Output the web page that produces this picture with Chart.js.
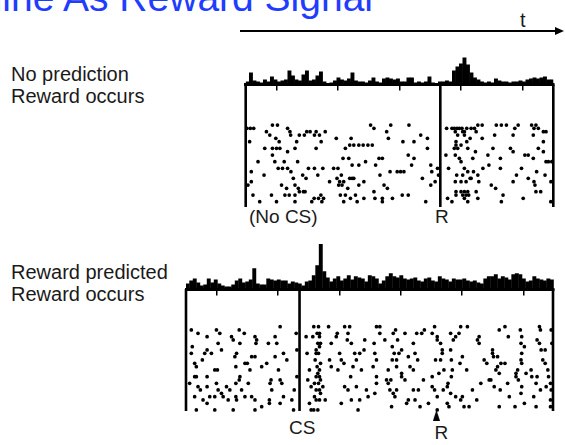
<!DOCTYPE html>
<html><head><meta charset="utf-8">
<script src="https://cdn.jsdelivr.net/npm/chart.js@4.4.1/dist/chart.umd.min.js"></script>
<style>
html,body{margin:0;padding:0;background:#fff;}
#page{position:relative;width:565px;height:445px;overflow:hidden;background:#fff;font-family:"Liberation Sans",Arial,sans-serif;}
.lbl{position:absolute;white-space:nowrap;line-height:1;color:#1a1a1a;}
canvas{position:absolute;}
</style></head><body>
<div id="page">
  <div class="lbl" style="right:192px;top:-22px;font-size:39px;color:#1f3cff;">Dopamine As Reward Signal</div>
  <div style="position:absolute;left:240px;top:30px;width:316px;height:2px;background:#000;"></div>
  <div style="position:absolute;left:555px;top:27px;width:0;height:0;border-left:9px solid #000;border-top:4px solid transparent;border-bottom:4px solid transparent;"></div>
  <div class="lbl" style="left:520px;top:10px;font-size:20px;">t</div>

  <div class="lbl" style="left:11px;top:63.5px;font-size:20px;">No prediction</div>
  <div class="lbl" style="left:11px;top:86px;font-size:20px;">Reward occurs</div>
  <div class="lbl" style="left:11px;top:261.6px;font-size:20px;">Reward predicted</div>
  <div class="lbl" style="left:11px;top:284.1px;font-size:20px;">Reward occurs</div>

  <div class="lbl" style="left:249px;top:206.9px;font-size:19px;">(No CS)</div>
  <div class="lbl" style="left:435px;top:206.9px;font-size:19px;">R</div>
  <div class="lbl" style="left:289px;top:417.9px;font-size:19px;">CS</div>
  <div class="lbl" style="left:434.5px;top:422.9px;font-size:19px;">R</div>

  <canvas id="histTop" width="318" height="54" style="left:240px;top:40px;"></canvas>
  <canvas id="rasterTop" width="318" height="132" style="left:240px;top:80px;"></canvas>
  <canvas id="histBottom" width="378" height="60" style="left:180px;top:239px;"></canvas>
  <canvas id="rasterBottom" width="378" height="141" style="left:180px;top:284px;"></canvas>
</div>
<script>
// ---------- DATA ----------
// time in ms (top: relative to reward R, bottom: relative to CS); bin width of histograms
const binMs = 25;
const tickStepMs = 410;
const topRange = [-1390, 807];
const bottomRange = [-813, 1815];
// vertical marker lines: left edge, event, right edge
const topMarkers = [-1390, 0, 807];
const bottomMarkers = [-813, 0, 1815];
const bottomRewardTime = 980;

// peri-event histogram counts (spikes per bin)
const topBinCounts = [3,12,4,3,2,5,3,8,5,3, 4,5,14,9,5,4,10,14,4,5, 9,13,3,1,2,4,7,5,4,6,
  12,4,3,3,2,4,7,3,2,6, 7,6,5,6,3,3,7,7,2,3, 2,3,8,2,1,3,3,4,3,14, 18,21,27,20,12,7,5,3,2,3,
  2,6,4,3,3,2,3,3,4,3, 5,6,7,6,7,8,5,5];
const bottomBinCounts = [6,9,11,7,4,5,11,7,10,6, 4,3,3,5,9,11,7,8,10,21, 6,5,5,11,10,9,10,9,9,6,
  8,7,6,4,8,9,14,24,45,18, 12,8,11,13,9,11,14,10,13,12, 11,8,14,13,11,6,9,13,16,13,
  12,14,11,10,11,12,9,8,11,12, 9,8,13,11,10,8,11,10,10,11, 9,8,9,7,6,11,13,13,15,11,
  13,12,10,15,16,15,11,8,9,13, 11,10,9,11,10];

// raster spikes: [time ms, trial]
const topSpikes = [
 [-1381,2],[-1357,2],[-1333,2],[-1242,3],[-1199,1],[-1163,1],[-1091,2],[-1074,3],[-1069,4],[-1007,4],[-971,4],
 [-954,3],[-930,3],[-899,4],[-887,3],[-863,4],[-822,3],[-498,1],[-474,2],[-354,1],[-383,3],[-371,5],
 [-1362,6],[-1218,4],[-1175,5],[-1151,6],[-1026,6],[-851,6],[-743,5],[-637,5],
 [-1254,8],[-1199,8],[-1170,8],[-1146,8],[-1091,9],[-1038,8],[-887,8],[-678,8],
 [-647,7],[-618,7],[-582,7],[-551,7],[-517,7],[-486,7],
 [-1199,10],[-695,11],[-654,11],[-438,11],[-414,11],
 [-1302,12],[-1182,12],[-1115,12],[-1019,12],[-630,13],[-582,13],[-534,12],[-462,13],
 [-1350,15],[-1259,16],[-1158,14],[-1127,14],[-1091,14],[-1067,15],[-1050,17],[-983,16],[-959,17],
 [-942,14],[-899,14],[-875,16],[-839,14],[-762,14],[-731,14],[-738,17],[-707,16],[-647,17],[-630,17],[-618,17],
 [-431,16],[-359,15],
 [-1374,19],[-1350,18],[-1134,19],[-1098,20],[-1038,19],[-1014,20],[-791,18],[-719,18],[-726,19],[-690,18],
 [-702,19],[-661,20],[-582,19],[-546,18],[-402,19],[-378,20],
 [-1338,22],[-1206,22],[-1110,22],[-1079,22],[-1038,22],[-1007,21],[-978,21],[-966,21],[-901,23],[-870,23],
 [-853,22],[-834,23],[-714,22],[-678,22],[-642,23],[-606,22],[-546,23],[-474,21],[-467,23],[-414,23],[-342,23],
 [-1290,24],[-1170,24],[-1038,24],[-918,24],[-846,24],[-690,24],[-594,24],[-414,24],
 [-224,1],[-140,4],[-267,6],[-188,6],[-92,5],[-92,8],[-229,10],[-188,11],[-308,15],[-284,15],[-260,15],
 [-205,13],[-68,13],[-20,14],[-61,15],[-128,17],[-37,18],[-68,19],[-272,22],[-229,22],[-104,24],[-13,16],
 [45,2],[83,2],[100,2],[119,2],[136,2],[155,2],[172,3],[189,2],[220,2],[244,2],
 [268,1],[299,1],[400,1],[436,1],[472,1],[532,2],[556,1],[652,1],[669,2],[683,1],[700,2],[736,3],[755,3],
 [107,3],[160,3],[256,3],[124,4],[172,4],[213,5],[112,6],[189,6],[299,5],[388,4],[520,4],[664,4],[736,6],
 [112,7],[148,7],[196,8],[100,8],[124,8],[251,9],[40,10],[376,8],[501,8],[520,9],[604,10],[700,8],[736,9],
 [107,10],[136,11],[148,12],[232,11],[340,10],[429,11],[628,10],[664,11],[755,12],[772,12],[796,12],
 [59,14],[172,14],[196,15],[237,15],[304,14],[117,16],[160,16],[213,17],[268,16],[347,13],[429,14],
 [580,14],[544,16],[628,17],[688,15],[748,16],
 [107,18],[148,18],[184,18],[220,17],[275,18],[364,19],[395,20],[520,18],[669,18],[676,19],[790,18],
 [112,21],[148,21],[172,21],[196,21],[112,22],[160,22],[184,22],[203,22],[52,23],[256,21],[268,23],
 [448,22],[592,23],[683,21],[717,21],[172,23],[83,24],[196,24],[436,24],[789,24]
];
const bottomSpikes = [
 [-775,2],[-727,3],[-595,2],[-571,3],[-432,2],[-396,3],[-487,4],[-475,5],[-319,4],[-307,5],[-139,1],[-175,4],[-24,3],[-662,4],
 [-768,7],[-583,6],[-427,6],[-312,6],[-223,6],[-163,6],
 [-775,9],[-679,9],[-662,8],[-631,9],[-559,8],[-451,9],[-115,9],[-19,8],
 [-696,11],[-751,12],[-739,13],[-463,10],[-456,13],[-391,12],[-374,12],[-343,10],[-319,10],[-271,13],[-235,12],[-175,10],[-91,11],[-151,14],
 [-751,16],[-739,16],[-662,16],[-607,14],[-588,14],[-427,16],[-432,17],[-355,14],[-204,17],[-139,17],[-19,16],
 [-787,18],[-727,19],[-662,19],[-595,18],[-583,20],[-523,19],[-456,18],[-367,18],[-211,18],[-127,18],
 [-751,22],[-710,20],[-607,22],[-559,21],[-547,22],[-499,20],[-456,22],[-415,20],[-343,22],[-199,20],[-115,22],[-38,20],
 [-691,23],[-643,22],[-511,23],[-451,23],[-391,22],[-319,23],[-216,23],[-55,23],
 [-662,24],[-739,26],[-607,26],[-475,26],[-319,26],[-216,24],[-139,24],[-43,26],[-271,25],
 [102,1],[136,1],[126,3],[143,3],[95,4],[143,4],[131,6],[150,6],[119,8],[143,7],[136,9],[119,9],[112,11],[150,12],
 [126,13],[143,14],[131,15],[143,16],[119,16],[150,17],[136,18],[107,18],[83,19],[119,20],[143,20],[107,22],[150,21],
 [119,23],[143,23],[71,24],[131,26],[102,26],[59,17],[71,14],[54,9],[47,4],[167,19],[184,23],[83,26],
 [208,1],[227,6],[263,4],[270,3],[323,1],[359,1],[347,3],[342,5],[371,6],[287,9],[299,11],[318,12],[275,14],
 [227,13],[215,11],[395,9],[407,11],[431,9],[467,5],[462,8],[443,14],[383,13],[366,16],[323,19],[347,20],
 [407,19],[431,23],[371,23],[299,24],[419,26],[479,20],[491,22],[539,21],[551,1],[575,1],[575,3],[534,6],
 [539,9],[527,13],[551,16],[551,18],[611,5],[623,17],[635,18],[654,17],[635,14],[671,3],[688,2],[702,5],
 [664,7],[678,9],[695,11],[712,9],[731,8],[664,11],[647,20],[671,21],[683,22],[695,20],[659,25],[755,3],
 [779,10],[755,17],[731,16],[791,13],[815,14],[815,6],[827,9],[846,11],[839,3],[875,3],[894,2],[887,17],
 [851,20],[815,20],[779,23],[827,23],[863,25],[923,24],[767,24],[695,13],[731,15],[551,11],
 [967,1],[950,3],[986,4],[986,5],[1010,6],[1022,8],[1022,9],[1082,3],[1142,3],[1154,1],[1202,1],[1118,4],
 [1101,5],[1082,8],[1166,10],[974,11],[1010,11],[1087,11],[1149,12],[1197,14],[1094,14],[1034,14],[998,15],
 [950,16],[1087,16],[1063,18],[1058,19],[950,19],[967,20],[986,22],[1029,20],[1082,21],[1118,22],[1154,23],
 [1166,22],[1058,24],[986,26],[1070,25],[1178,25],[1214,25],[1238,20],[1269,23],[1298,18],[1286,4],[1274,5],
 [1286,6],[1430,2],[1471,1],[1495,4],[1382,8],[1382,9],[1389,10],[1322,11],[1341,12],[1358,17],[1370,17],
 [1406,14],[1418,13],[1442,12],[1471,12],[1430,15],[1394,19],[1437,20],[1502,22],[1430,25],[1543,25],
 [1581,2],[1591,4],[1586,6],[1610,7],[1591,9],[1586,11],[1591,12],[1562,14],[1550,16],[1567,17],[1591,19],
 [1586,21],[1610,24],[1550,15],[1622,15],[1658,14],[1663,16],[1701,16],[1694,18],[1677,22],[1694,25],
 [1718,1],[1725,2],[1701,5],[1718,6],[1730,8],[1759,8],[1742,11],[1759,12],[1778,14],[1783,16],[1797,18],
 [1802,20],[1725,20],[1797,23],[1797,25],[1802,2],[1807,6],[1766,19],[1490,18],[1418,10]
];

// ---------- CHARTS ----------
const common = {responsive:false, animation:false, events:[],
  plugins:{legend:{display:false}, tooltip:{enabled:false}}};

function histChart(id, counts, range, yMax, padL, padR) {
  const data = counts.map((c, i) => ({x: range[0] + (i + 0.5) * binMs, y: c}));
  return new Chart(document.getElementById(id), {
    type: 'bar',
    data: {datasets: [{data, backgroundColor: '#000', borderWidth: 0,
      barPercentage: 1.12, categoryPercentage: 1, grouped: false}]},
    options: Object.assign({}, common, {
      layout: {padding: {left: padL, right: padR, top: 0, bottom: 3.5}},
      scales: {
        x: {type: 'linear', min: range[0], max: range[1], offset: false,
          border: {display: true, color: '#000', width: 3},
          grid: {display: true, drawOnChartArea: false, drawTicks: true, tickLength: 6, color: '#000', lineWidth: 1.5},
          ticks: {display: false, stepSize: tickStepMs, includeBounds: false}},
        y: {display: false, min: 0, max: yMax}
      }
    })
  });
}

function triangleImage() {
  const c = document.createElement('canvas');
  c.width = 7; c.height = 11;
  const g = c.getContext('2d');
  g.fillStyle = '#000';
  g.beginPath(); g.moveTo(3.5, 0); g.lineTo(7, 11); g.lineTo(0, 11); g.closePath(); g.fill();
  return c;
}

function rasterChart(id, spikes, range, yMin, yMax, markers, pad, reward) {
  const datasets = [{
    data: spikes.map(([t, tr]) => ({x: t, y: tr})),
    pointRadius: 1.85, pointBackgroundColor: '#000', pointBorderWidth: 0, clip: false
  }];
  markers.forEach(m => datasets.push({
    data: [{x: m, y: yMin}, {x: m, y: yMax}], showLine: true, borderColor: '#000',
    borderWidth: 2.6, pointRadius: 0, clip: false
  }));
  if (reward !== undefined) {
    datasets.push({data: [{x: reward, y: yMax + 1.3}], pointStyle: triangleImage(), pointRadius: 4, clip: false});
  }
  return new Chart(document.getElementById(id), {
    type: 'scatter',
    data: {datasets},
    options: Object.assign({}, common, {
      layout: {padding: pad},
      scales: {
        x: {display: false, type: 'linear', min: range[0], max: range[1]},
        y: {display: false, min: yMin, max: yMax, reverse: true}
      }
    })
  });
}

histChart('histTop', topBinCounts, topRange, 44.5, 5.7, 4.7);
histChart('histBottom', bottomBinCounts, bottomRange, 50, 6, 4);
rasterChart('rasterTop', topSpikes, topRange, -11.16, 25.59, topMarkers,
  {left: 5.7, right: 4.7, top: 4.5, bottom: 5});
rasterChart('rasterBottom', bottomSpikes, bottomRange, -10.29, 26.31, bottomMarkers,
  {left: 6, right: 4, top: 5, bottom: 14}, bottomRewardTime);
</script>
</body></html>
